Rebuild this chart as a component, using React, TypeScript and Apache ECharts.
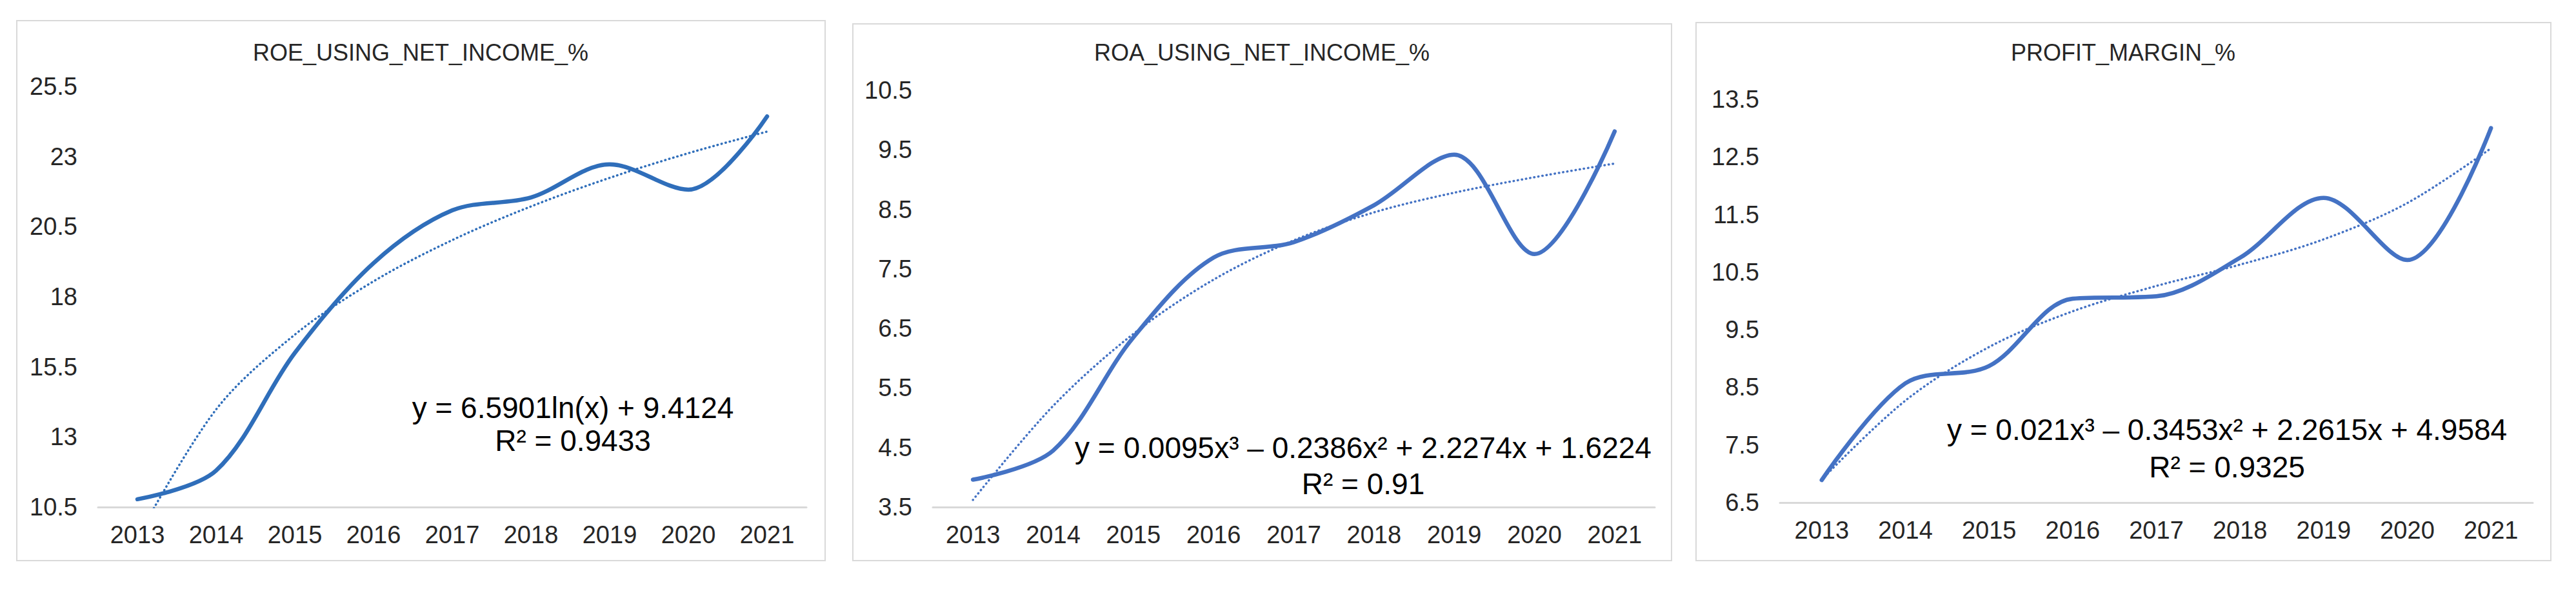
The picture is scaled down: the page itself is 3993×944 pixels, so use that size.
import React, { useEffect, useRef } from "react";
import * as echarts from "echarts";

const years = ["2013", "2014", "2015", "2016", "2017", "2018", "2019", "2020", "2021"];

const roeValues = [10.78, 11.8, 16.0, 19.2, 21.08, 21.54, 22.72, 21.82, 24.43];
const roeTrend = [9.41, 13.98, 16.65, 18.55, 20.02, 21.22, 22.24, 23.12, 23.89];
const roeTicks = [10.5, 13, 15.5, 18, 20.5, 23, 25.5];

const roaValues = [3.96, 4.45, 6.35, 7.69, 7.95, 8.57, 9.42, 7.75, 9.81];
const roaTrend = [3.62, 5.2, 6.41, 7.32, 7.98, 8.45, 8.78, 9.04, 9.27];
const roaTicks = [3.5, 4.5, 5.5, 6.5, 7.5, 8.5, 9.5, 10.5];

const pmValues = [6.89, 8.57, 8.87, 10.04, 10.08, 10.75, 11.79, 10.71, 13.0];
const pmTrend = [6.9, 8.27, 9.2, 9.82, 10.26, 10.63, 11.07, 11.7, 12.65];
const pmTicks = [6.5, 7.5, 8.5, 9.5, 10.5, 11.5, 12.5, 13.5];

const titles = ["ROE_USING_NET_INCOME_%", "ROA_USING_NET_INCOME_%", "PROFIT_MARGIN_%"];
const equations = [
  "y = 6.5901ln(x) + 9.4124",
  "y = 0.0095x³ – 0.2386x² + 2.2274x + 1.6224",
  "y = 0.021x³ – 0.3453x² + 2.2615x + 4.9584",
];
const rSquared = ["R² = 0.9433", "R² = 0.91", "R² = 0.9325"];

const FONT = "'Liberation Sans', Arial, sans-serif";
const TEXT = "#262626";

export default function App() {
  const ref = useRef<HTMLDivElement>(null);

  useEffect(() => {
    if (!ref.current) return;
    const chart = echarts.init(ref.current, null, { renderer: "svg" });

    const panels = [
      { grid: { left: 152, top: 134, width: 1098, height: 652 }, min: 10.5, max: 25.5, interval: 2.5, ticks: roeTicks, values: roeValues, trend: roeTrend, color: "#2F6EBA", box: [26, 32, 1253, 837], titleX: 652, eq: [888, 632, 683] },
      { grid: { left: 1446, top: 140, width: 1119, height: 646 }, min: 3.5, max: 10.5, interval: 1, ticks: roaTicks, values: roaValues, trend: roaTrend, color: "#4472C4", box: [1322, 37, 1269, 832], titleX: 1956, eq: [2113, 694, 750] },
      { grid: { left: 2759, top: 154, width: 1167, height: 625 }, min: 6.5, max: 13.5, interval: 1, ticks: pmTicks, values: pmValues, trend: pmTrend, color: "#4472C4", box: [2629, 35, 1325, 834], titleX: 3291, eq: [3452, 666, 724] },
    ];

    const graphic: any[] = [];
    panels.forEach((p, i) => {
      graphic.push({
        type: "rect",
        z: 0,
        shape: { x: p.box[0], y: p.box[1], width: p.box[2], height: p.box[3] },
        style: { fill: "none", stroke: "#D9D9D9", lineWidth: 2 },
      });
      graphic.push({
        type: "text",
        x: p.titleX,
        y: 81,
        style: { text: titles[i], fill: TEXT, font: `36px ${FONT}`, align: "center", verticalAlign: "middle", textAlign: "center", textVerticalAlign: "middle" },
      });
      graphic.push({
        type: "text",
        x: p.eq[0],
        y: p.eq[1],
        z: 10,
        style: { text: equations[i], fill: "#000", font: `46px ${FONT}`, align: "center", verticalAlign: "middle", textAlign: "center", textVerticalAlign: "middle" },
      });
      graphic.push({
        type: "text",
        x: p.eq[0],
        y: p.eq[2],
        z: 10,
        style: { text: rSquared[i], fill: "#000", font: `46px ${FONT}`, align: "center", verticalAlign: "middle", textAlign: "center", textVerticalAlign: "middle" },
      });
    });

    const option: any = {
      animation: false,
      backgroundColor: "#fff",
      grid: panels.map((p) => ({ ...p.grid, containLabel: false })),
      xAxis: panels.map((p, i) => ({
        type: "category",
        gridIndex: i,
        data: years,
        boundaryGap: true,
        axisLine: { lineStyle: { color: "#D9D9D9", width: 3 } },
        axisTick: { show: false },
        axisLabel: { fontSize: 38, color: TEXT, fontFamily: FONT, margin: 24, interval: 0 },
        splitLine: { show: false },
      })),
      yAxis: panels.map((p, i) => ({
        type: "value",
        gridIndex: i,
        min: p.min,
        max: p.max,
        interval: p.interval,
        axisLine: { show: false },
        axisTick: { show: false },
        splitLine: { show: false },
        axisLabel: { fontSize: 38, color: TEXT, fontFamily: FONT, margin: 32, customValues: p.ticks },
      })),
      series: panels.flatMap((p, i) => [
        {
          type: "line",
          xAxisIndex: i,
          yAxisIndex: i,
          data: p.trend,
          smooth: 0.33,
          symbol: "none",
          clip: true,
          z: 2,
          lineStyle: { color: p.color, width: 3.5, type: [0.5, 6], cap: "round" },
        },
        {
          type: "line",
          xAxisIndex: i,
          yAxisIndex: i,
          data: p.values,
          smooth: 0.33,
          symbol: "none",
          z: 3,
          lineStyle: { color: p.color, width: 6.5, cap: "round" },
        },
      ]),
      graphic,
    };

    chart.setOption(option);
    return () => chart.dispose();
  }, []);

  return (
    <div
      ref={ref}
      style={{ position: "fixed", left: 0, top: 0, width: 3993, height: 944, background: "#fff" }}
    />
  );
}
